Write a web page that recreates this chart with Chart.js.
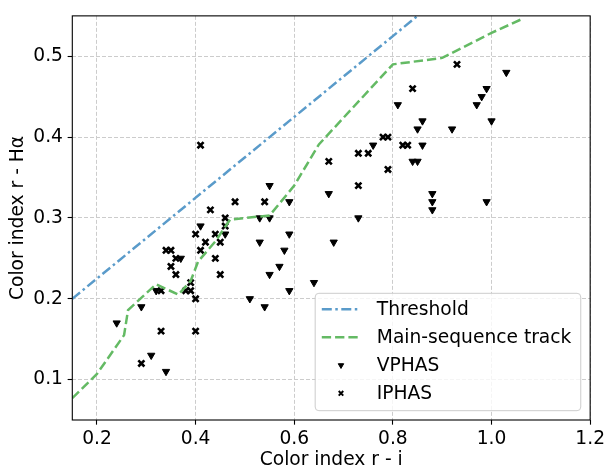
<!DOCTYPE html>
<html>
<head>
<meta charset="utf-8">
<script src="https://cdn.jsdelivr.net/npm/chart.js@4.4.1/dist/chart.umd.min.js"></script>
<style>
  html, body { margin: 0; padding: 0; background: #ffffff; }
  #wrap { width: 608px; height: 471px; }
</style>
</head>
<body>
<div id="wrap"><canvas id="c" width="608" height="471"></canvas></div>
<script>
// Colour-colour diagram: r - i against r - Hα

// Threshold line (r - i, r - Hα)
const thresholdRI = [0.15, 0.85];
const thresholdHa = [0.20, 0.55];

// Unreddened main-sequence track
const trackRI = [0.15, 0.20, 0.255, 0.263, 0.32, 0.365, 0.39, 0.405, 0.44, 0.47, 0.55, 0.60, 0.65, 0.80, 0.90, 1.00, 1.065];
const trackHa = [0.077, 0.107, 0.155, 0.186, 0.218, 0.205, 0.222, 0.246, 0.271, 0.298, 0.303, 0.340, 0.391, 0.490, 0.498, 0.529, 0.547];

// VPHAS sources
const vphasRI = [0.24, 0.29, 0.31, 0.34, 0.32, 0.37, 0.41, 0.46, 0.51, 0.54, 0.53, 0.53, 0.55, 0.55, 0.55, 0.57, 0.58, 0.59, 0.59, 0.59, 0.64, 0.67, 0.68, 0.73, 0.76, 0.81, 0.84, 0.85, 0.85, 0.86, 0.86, 0.88, 0.88, 0.88, 0.92, 0.97, 0.98, 0.99, 0.99, 1.00, 1.03];
const vphasHa = [0.17, 0.19, 0.13, 0.11, 0.21, 0.25, 0.29, 0.28, 0.20, 0.19, 0.27, 0.30, 0.30, 0.23, 0.34, 0.24, 0.26, 0.21, 0.28, 0.32, 0.22, 0.33, 0.27, 0.30, 0.39, 0.44, 0.37, 0.37, 0.41, 0.42, 0.39, 0.33, 0.32, 0.31, 0.41, 0.44, 0.45, 0.46, 0.32, 0.42, 0.48];

// IPHAS sources
const iphasRI = [0.29, 0.33, 0.40, 0.40, 0.33, 0.38, 0.39, 0.39, 0.36, 0.35, 0.36, 0.34, 0.35, 0.41, 0.44, 0.45, 0.45, 0.42, 0.40, 0.44, 0.46, 0.46, 0.43, 0.48, 0.54, 0.41, 0.67, 0.73, 0.73, 0.75, 0.78, 0.79, 0.79, 0.82, 0.83, 0.84, 0.93];
const iphasHa = [0.12, 0.16, 0.16, 0.20, 0.21, 0.21, 0.21, 0.22, 0.23, 0.24, 0.25, 0.26, 0.26, 0.26, 0.25, 0.23, 0.27, 0.27, 0.28, 0.28, 0.29, 0.30, 0.31, 0.32, 0.32, 0.39, 0.37, 0.34, 0.38, 0.38, 0.40, 0.40, 0.36, 0.39, 0.39, 0.46, 0.49];

// Axis ticks
const xTicks = [0.2, 0.4, 0.6, 0.8, 1.0, 1.2];
const yTicks = [0.1, 0.2, 0.3, 0.4, 0.5];

const FONT = 'DejaVu Sans';
const FS = 18.67;
const BLUE = 'rgb(90,155,202)';
const GREEN = 'rgb(100,186,100)';
const TRI_R = 4.2;
const X_R = 4.3;

const zip = (xs, ys) => xs.map((x, i) => ({ x: x, y: ys[i] }));

// Full box around the plotting area
const framePlugin = {
  id: 'frame',
  afterDraw(chart) {
    const a = chart.chartArea, ctx = chart.ctx;
    ctx.save();
    ctx.strokeStyle = '#000';
    ctx.lineWidth = 1.1;
    ctx.setLineDash([]);
    ctx.strokeRect(a.left, a.top, a.right - a.left, a.bottom - a.top);
    ctx.restore();
  }
};

// Legend symbols are drawn a little smaller than the plotted ones
function drawMarker(ctx, style, x, y, scale) {
  ctx.save();
  ctx.fillStyle = '#000';
  ctx.strokeStyle = '#000';
  ctx.setLineDash([]);
  if (style === 'triangle') {
    const r = TRI_R * scale;
    ctx.beginPath();
    ctx.moveTo(x, y + r);
    ctx.lineTo(x - r * 0.866, y - r * 0.5);
    ctx.lineTo(x + r * 0.866, y - r * 0.5);
    ctx.closePath();
    ctx.fill();
    ctx.lineWidth = 1;
    ctx.stroke();
  } else {
    const d = X_R * scale * Math.SQRT1_2;
    ctx.lineWidth = 2.6 * scale;
    ctx.beginPath();
    ctx.moveTo(x - d, y - d); ctx.lineTo(x + d, y + d);
    ctx.moveTo(x - d, y + d); ctx.lineTo(x + d, y - d);
    ctx.stroke();
  }
  ctx.restore();
}

// Legend box in the lower right of the plotting area
const legendPlugin = {
  id: 'boxLegend',
  afterDraw(chart) {
    const a = chart.chartArea, ctx = chart.ctx;
    const sets = chart.data.datasets;
    ctx.save();
    ctx.font = FS + 'px "' + FONT + '"';
    let tw = 0;
    sets.forEach(d => { tw = Math.max(tw, ctx.measureText(d.label).width); });
    const w = tw + 71;
    const h = 117.4;
    const right = a.right - 9.4;
    const bottom = a.bottom - 9.3;
    const left = right - w, top = bottom - h;
    const r = 3.7;
    ctx.beginPath();
    ctx.moveTo(left + r, top);
    ctx.lineTo(right - r, top); ctx.quadraticCurveTo(right, top, right, top + r);
    ctx.lineTo(right, bottom - r); ctx.quadraticCurveTo(right, bottom, right - r, bottom);
    ctx.lineTo(left + r, bottom); ctx.quadraticCurveTo(left, bottom, left, bottom - r);
    ctx.lineTo(left, top + r); ctx.quadraticCurveTo(left, top, left + r, top);
    ctx.closePath();
    ctx.fillStyle = 'rgba(255,255,255,0.8)';
    ctx.fill();
    ctx.strokeStyle = '#cccccc';
    ctx.lineWidth = 1;
    ctx.stroke();

    const hx0 = left + 6.6, hx1 = left + 45;
    const tx = left + 61.6;
    sets.forEach((d, i) => {
      const cy = top + 16 + i * 28;
      if (d.showLine) {
        ctx.save();
        ctx.strokeStyle = d.borderColor;
        ctx.lineWidth = d.borderWidth;
        ctx.lineCap = 'butt';
        ctx.setLineDash(d.borderDash || []);
        ctx.beginPath();
        ctx.moveTo(hx0, cy); ctx.lineTo(hx1, cy);
        ctx.stroke();
        ctx.restore();
      } else {
        drawMarker(ctx, d.pointStyle, (hx0 + hx1) / 2, cy, 0.75);
      }
      ctx.fillStyle = '#000';
      ctx.textAlign = 'left';
      ctx.textBaseline = 'middle';
      ctx.fillText(d.label, tx, cy + 1);
    });
    ctx.restore();
  }
};

const tickFont = { family: FONT, size: FS };

const gridOpts = {
  color: '#cccccc',
  lineWidth: 1,
  drawTicks: true,
  tickLength: 4.67,
  tickColor: '#000',
  tickWidth: 1.1,
  tickBorderDash: []
};

new Chart(document.getElementById('c'), {
  type: 'scatter',
  data: {
    datasets: [
      {
        label: 'Threshold',
        data: zip(thresholdRI, thresholdHa),
        showLine: true,
        borderColor: BLUE,
        borderWidth: 2.5,
        borderDash: [10, 3.5, 2.5, 3.5],
        pointRadius: 0,
        fill: false,
        order: 1
      },
      {
        label: 'Main-sequence track',
        data: zip(trackRI, trackHa),
        showLine: true,
        borderColor: GREEN,
        borderWidth: 2.5,
        borderDash: [9.3, 4],
        pointRadius: 0,
        fill: false,
        order: 2
      },
      {
        label: 'VPHAS',
        data: zip(vphasRI, vphasHa),
        pointStyle: 'triangle',
        rotation: 180,
        pointRadius: TRI_R,
        backgroundColor: '#000',
        borderColor: '#000',
        borderWidth: 1,
        order: 3
      },
      {
        label: 'IPHAS',
        data: zip(iphasRI, iphasHa),
        pointStyle: 'crossRot',
        pointRadius: X_R,
        backgroundColor: '#000',
        borderColor: '#000',
        borderWidth: 2.6,
        order: 4
      }
    ]
  },
  options: {
    responsive: false,
    animation: false,
    devicePixelRatio: 1,
    events: [],
    layout: { padding: { top: 9.3, right: 15.7, left: 0, bottom: 0 } },
    plugins: { legend: { display: false }, tooltip: { enabled: false } },
    scales: {
      x: {
        type: 'linear',
        min: 0.15,
        max: 1.2,
        afterBuildTicks(s) { s.ticks = xTicks.map(v => ({ value: v })); },
        afterFit(s) { s.height = 51; },
        border: { display: false, dash: [4, 2] },
        grid: gridOpts,
        ticks: {
          color: '#000',
          font: tickFont,
          padding: 3,
          maxRotation: 0,
          autoSkip: false,
          callback: v => Number(v).toFixed(1)
        },
        title: {
          display: true,
          text: 'Color index r - i',
          color: '#000',
          font: tickFont,
          padding: { top: 0, bottom: 0 }
        }
      },
      y: {
        type: 'linear',
        min: 0.05,
        max: 0.55,
        afterBuildTicks(s) { s.ticks = yTicks.map(v => ({ value: v })); },
        afterFit(s) { s.width = 72.3; },
        border: { display: false, dash: [4, 2] },
        grid: gridOpts,
        ticks: {
          color: '#000',
          font: tickFont,
          padding: 4.67,
          autoSkip: false,
          callback: v => Number(v).toFixed(1)
        },
        title: {
          display: true,
          text: 'Color index r - Hα',
          color: '#000',
          font: tickFont,
          padding: { top: 7, bottom: 0 }
        }
      }
    }
  },
  plugins: [framePlugin, legendPlugin]
});
</script>
</body>
</html>
